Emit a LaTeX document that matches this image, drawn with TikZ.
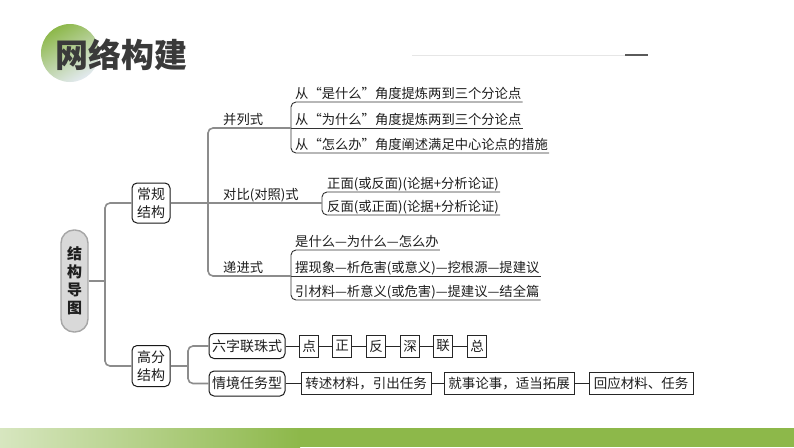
\documentclass[tikz,border=0pt]{standalone}
\usepackage{fontspec}
\setmainfont{Noto Sans CJK SC}
\usetikzlibrary{shadows}
\definecolor{gbar}{HTML}{8DB84A}
\definecolor{treegray}{HTML}{8C8C8C}
\definecolor{pillfill}{HTML}{D9D9D9}
\definecolor{pillline}{HTML}{A6A6A6}
\definecolor{inkc}{HTML}{1E1E1E}
\definecolor{titlec}{HTML}{3A3A3A}
\definecolor{paleb}{HTML}{E3EAF0}
\definecolor{hline}{HTML}{E6E6E6}
\definecolor{hbar}{HTML}{5A5A5A}
\tikzset{
 tree/.style={draw=treegray, line width=1.6pt},
 uline/.style={draw=black!80, line width=0.9pt},
 link/.style={draw=black!85, line width=0.9pt},
 itemtxt/.style={anchor=base west, inner sep=0pt, font=\fontsize{13.3}{16}\selectfont, text=inkc},
 lbl/.style={anchor=base west, inner sep=0pt, font=\fontsize{13.3}{16}\selectfont, text=inkc},
 rbox/.style={draw=black!90, line width=1pt, rounded corners=5pt, fill=white, inner sep=0pt, align=center, text=inkc, font=\fontsize{14}{18}\selectfont},
 sqbox/.style={draw=black!85, line width=0.9pt, fill=white, inner sep=0pt, text=inkc, font=\fontsize{13.5}{16}\selectfont, minimum height=22pt, drop shadow={shadow xshift=0.8pt, shadow yshift=-0.8pt, opacity=0.35}},
}
\begin{document}
\begin{tikzpicture}[x=1pt,y=-1pt]
\useasboundingbox (0,0) rectangle (794,447);
\fill[white] (0,0) rectangle (794,447);
% bottom bar
\shade[left color=gbar!35, right color=gbar] (0,428) rectangle (300,447);
\fill[gbar] (299.5,428) rectangle (794,447);
% header
\shade[top color=gbar, bottom color=paleb, shading angle=30] (70,53) circle (29);
\node[anchor=west, inner sep=0pt, font=\fontsize{33}{33}\selectfont\bfseries, text=titlec] (title) at (55,55) {网络构建};
\draw[hline, line width=1pt] (412,55) -- (625,55);
\draw[hbar, line width=2.5pt] (625,55) -- (648,55);
% root
\node[draw=pillline, line width=1.4pt, fill=pillfill, rounded corners=13pt, minimum width=27pt, minimum height=102pt, inner sep=0pt, align=center, text=inkc, font=\fontsize{15}{18}\selectfont\bfseries] (root) at (74.5,281) {结\\构\\导\\图};
\node[rbox, minimum width=38pt, minimum height=40pt] (cg) at (151,203) {常规\\结构};
\node[rbox, minimum width=38pt, minimum height=41pt] (gf) at (151,366) {高分\\结构};
\coordinate (j1) at (105,281);
\draw[tree, rounded corners=5pt] (cg.west) -| (j1) |- (gf.west);
\draw[tree] (root.east) -- (j1);
% labels
\node[lbl] (l1) at (223,124) {并列式};
\node[lbl] (l2) at (223,199) {对比(对照)式};
\node[lbl] (l3) at (223,272) {递进式};
% group 1
\node[itemtxt] (t11) at (295,98) {从“是什么”角度提炼两到三个分论点};
\node[itemtxt] (t12) at (295,124) {从“为什么”角度提炼两到三个分论点};
\node[itemtxt] (t13) at (295,149) {从“怎么办”角度阐述满足中心论点的措施};
\coordinate (g1t) at (291,102);
\coordinate (g1m) at (291,128);
\coordinate (g1b) at (291,153);
\draw[uline, rounded corners=5pt] ([xshift=1pt]t11.east |- g1t) -- (g1t) -- (g1b) -- ([xshift=1pt]t13.east |- g1b);
\draw[uline] (g1m) -- ([xshift=1pt]t12.east |- g1m);
% group 2
\node[itemtxt] (t21) at (327,188) {正面(或反面)(论据+分析论证)};
\node[itemtxt] (t22) at (327,211) {反面(或正面)(论据+分析论证)};
\coordinate (g2t) at (322,192);
\coordinate (g2m) at (322,203);
\coordinate (g2b) at (322,215);
\draw[uline, rounded corners=5pt] ([xshift=1pt]t21.east |- g2t) -- (g2t) -- (g2b) -- ([xshift=1pt]t22.east |- g2b);
% group 3
\node[itemtxt] (t31) at (295,246) {是什么—为什么—怎么办};
\node[itemtxt] (t32) at (295,272) {摆现象—析危害(或意义)—挖根源—提建议};
\node[itemtxt] (t33) at (295,296) {引材料—析意义(或危害)—提建议—结全篇};
\coordinate (g3t) at (291,250);
\coordinate (g3m) at (291,276);
\coordinate (g3b) at (291,300);
\draw[uline, rounded corners=5pt] ([xshift=1pt]t31.east |- g3t) -- (g3t) -- (g3b) -- ([xshift=1pt]t33.east |- g3b);
\draw[uline] (g3m) -- ([xshift=1pt]t32.east |- g3m);
% tree from cg
\coordinate (j2) at (208,203);
\draw[tree, rounded corners=5pt] (g1m) -| (j2) |- (g3m);
\draw[tree] (cg.east) -- (g2m);
% high section
\node[rbox, minimum width=76pt, minimum height=25pt] (s1) at (247,346) {六字联珠式};
\node[rbox, minimum width=76pt, minimum height=25pt] (s2) at (247,383.5) {情境任务型};
\coordinate (j3) at (188,366);
\draw[tree, rounded corners=5pt] (s1.west) -| (j3) |- (s2.west);
\draw[tree] (gf.east) -- (j3);
\node[sqbox, minimum width=19pt] (c1) at (309,346) {点};
\node[sqbox, minimum width=19pt] (c2) at (342,346) {正};
\node[sqbox, minimum width=19pt] (c3) at (376,346) {反};
\node[sqbox, minimum width=19pt] (c4) at (410,346) {深};
\node[sqbox, minimum width=19pt] (c5) at (443,346) {联};
\node[sqbox, minimum width=19pt] (c6) at (477,346) {总};
\draw[link] (s1) -- (c1);
\draw[link] (c1) -- (c2);
\draw[link] (c2) -- (c3);
\draw[link] (c3) -- (c4);
\draw[link] (c4) -- (c5);
\draw[link] (c5) -- (c6);
\node[sqbox, minimum width=130pt] (r1) at (366,383.5) {转述材料，引出任务};
\node[sqbox, minimum width=130pt] (r2) at (509,383.5) {就事论事，适当拓展};
\node[sqbox, minimum width=104pt] (r3) at (641,383.5) {回应材料、任务};
\draw[link] (s2) -- (r1);
\draw[link] (r1) -- (r2);
\draw[link] (r2) -- (r3);
\end{tikzpicture}
\end{document}
